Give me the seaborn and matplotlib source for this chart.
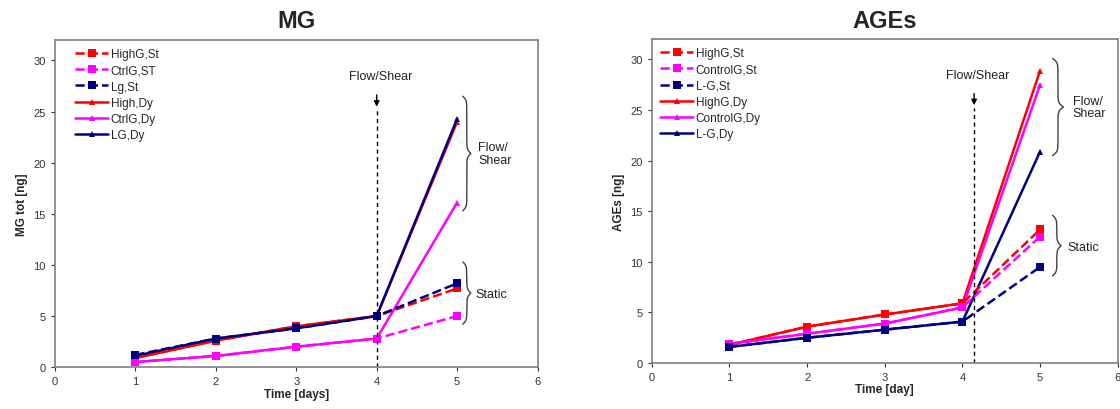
import numpy as np
import pandas as pd
import matplotlib
matplotlib.use("Agg")
import matplotlib.pyplot as plt
import seaborn as sns

sns.set_theme(style="white")
plt.rcParams['font.family'] = ['Liberation Sans', 'DejaVu Sans']

days = [1, 2, 3, 4, 5]

# MG panel
mg_labels = ["HighG,St", "CtrlG,ST", "Lg,St", "High,Dy", "CtrlG,Dy", "LG,Dy"]
mg_high_st = [0.9, 2.6, 4.0, 5.0, 7.7]
mg_ctrl_st = [0.5, 1.1, 2.0, 2.8, 5.0]
mg_low_st = [1.2, 2.8, 3.8, 5.0, 8.2]
mg_high_dy = [0.9, 2.6, 4.0, 5.0, 24.0]
mg_ctrl_dy = [0.5, 1.1, 2.0, 2.8, 16.1]
mg_low_dy = [1.1, 2.8, 3.8, 5.0, 24.3]

# AGEs panel
ag_labels = ["HighG,St", "ControlG,St", "L-G,St", "HighG,Dy", "ControlG,Dy", "L-G,Dy"]
ag_high_st = [1.8, 3.6, 4.8, 5.9, 13.2]
ag_ctrl_st = [1.9, 2.9, 3.9, 5.5, 12.5]
ag_low_st = [1.6, 2.5, 3.3, 4.1, 9.5]
ag_high_dy = [1.8, 3.6, 4.8, 5.9, 28.9]
ag_ctrl_dy = [1.9, 2.9, 3.9, 5.5, 27.5]
ag_low_dy = [1.6, 2.5, 3.3, 4.1, 20.9]

colors = ["#FF0000", "#FF00FF", "#000080"] * 2
styles = ["--"] * 3 + ["-"] * 3
markers = ["s"] * 3 + ["^"] * 3

fig = plt.figure(figsize=(11.2, 4.1), dpi=100)
ax1 = fig.add_axes([0.049, 0.102, 0.431, 0.798])
ax2 = fig.add_axes([0.582, 0.112, 0.416, 0.790])

GRAY = "#808080"


def brace(ax, x0, y0, y1, w, px_per_unit):
    half = (y1 - y0) / 2.0
    beta = half * px_per_unit / 2.0
    t = np.linspace(0, 1, 200)
    v = 1 / (1 + np.exp(-beta * t)) + 1 / (1 + np.exp(-beta * (t - 1)))
    xs = np.concatenate([v, v[::-1]]) - 0.5
    ys = np.concatenate([y0 + t * half, y0 + half + t * half])
    ax.plot(x0 + w * xs, ys, color="#404040", lw=1.0, solid_capstyle="round")


def draw(ax, labels, series, title, ylabel, xlabel, vx, flow, static, px, leg_x):
    # dynamic first, static on top
    order = [3, 4, 5, 0, 1, 2]
    for i in order:
        df = pd.DataFrame({"day": days, "val": series[i]})
        sns.lineplot(data=df, x="day", y="val", ax=ax, color=colors[i],
                     linestyle=styles[i], marker=markers[i],
                     markersize=6 if markers[i] == "s" else 5,
                     markeredgewidth=0, linewidth=1.8, label=labels[i])
    h, l = ax.get_legend_handles_labels()
    m = dict(zip(l, h))
    ax.legend([m[x] for x in labels], labels, loc="upper left", frameon=False,
              fontsize=8.5, handlelength=2.8, handletextpad=0.2, labelspacing=0.35,
              borderaxespad=0.3, bbox_to_anchor=(leg_x, 1.0))
    ax.set_xlim(0, 6)
    ax.set_ylim(0, 32)
    ax.set_xticks(range(0, 7))
    ax.set_yticks(range(0, 31, 5))
    ax.tick_params(axis="both", labelsize=8, colors="#333333", length=3,
                   direction="out", bottom=True, left=True, width=0.8)
    for s in ax.spines.values():
        s.set_color(GRAY)
        s.set_linewidth(1.2)
    ax.set_title(title, fontsize=17, fontweight="bold", pad=9)
    ax.set_ylabel(ylabel, fontsize=8.5, fontweight="bold")
    ax.set_xlabel(xlabel, fontsize=8.5, fontweight="bold", labelpad=1)
    # vertical marker
    ax.plot([vx, vx], [0, 25.2], color="black", lw=1.0, linestyle=(0, (3, 2.5)))
    ax.annotate("", xy=(vx, 25.2), xytext=(vx, 26.9),
                arrowprops=dict(arrowstyle="-|>", color="black", lw=1.0,
                                mutation_scale=8))
    ax.text(vx + 0.05, 28.5, "Flow/Shear", ha="center", va="center",
            fontsize=9, color="#222222")
    # braces
    fx, fw, fy0, fy1, ftx, fty = flow
    brace(ax, fx, fy0, fy1, fw, px)
    ax.text(ftx, fty, "Flow/\nShear", ha="left", va="center", fontsize=9,
            color="#222222", linespacing=1.1)
    sx, sw, sy0, sy1, stx, sty = static
    brace(ax, sx, sy0, sy1, sw, px)
    ax.text(stx, sty, "Static", ha="left", va="center", fontsize=9,
            color="#222222")


draw(ax1, mg_labels,
     [mg_high_st, mg_ctrl_st, mg_low_st, mg_high_dy, mg_ctrl_dy, mg_low_dy],
     "MG", "MG tot [ng]", "Time [days]", 4.0,
     (5.07, 0.1, 15.3, 26.5, 5.26, 20.9), (5.07, 0.1, 4.2, 10.3, 5.23, 7.2),
     10.2, 0.025)
draw(ax2, ag_labels,
     [ag_high_st, ag_ctrl_st, ag_low_st, ag_high_dy, ag_ctrl_dy, ag_low_dy],
     "AGEs", "AGEs [ng]", "Time [day]", 4.15,
     (5.16, 0.14, 20.5, 30.1, 5.42, 25.3), (5.16, 0.11, 8.6, 14.6, 5.35, 11.5),
     10.1, 0.0)

fig.savefig("out.png", dpi=100)
